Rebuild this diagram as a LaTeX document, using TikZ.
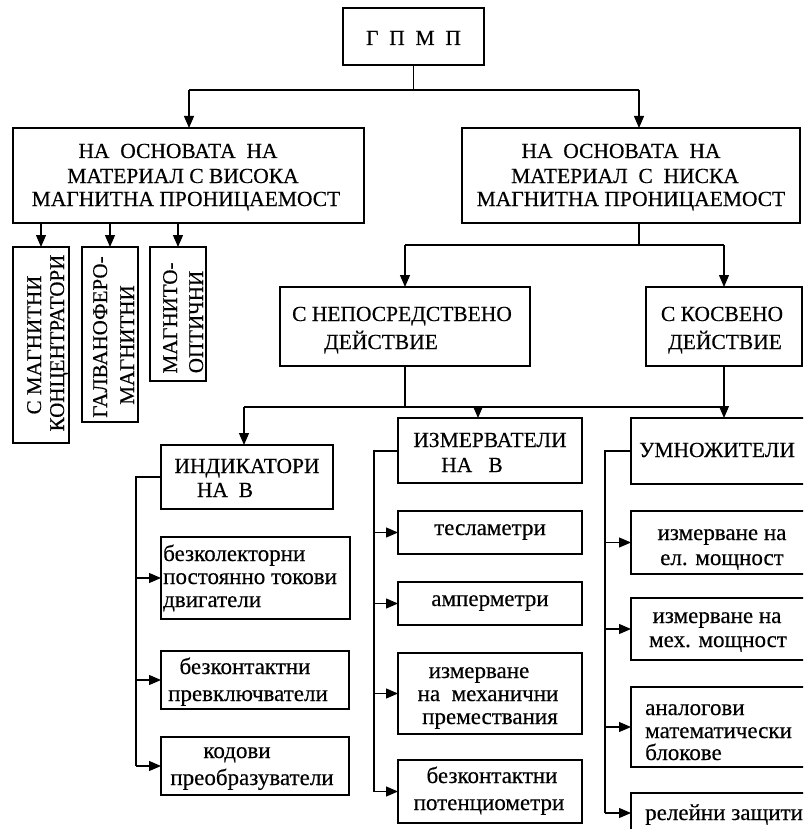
\documentclass[tikz,border=0pt]{standalone}
\usepackage{fontspec}
\setmainfont[FakeBold=0.35]{Liberation Serif}
\usetikzlibrary{arrows.meta}

% rectangle from (x1,y1) to (x2,y2), y measured downwards
\newcommand\boxat[5]{%
  \node[box, minimum width={(#4-#2)*1pt}, minimum height={(#5-#3)*1pt}]
    (#1) at ({(#2+#4)/2},{(#3+#5)/2}) {};}

\tikzset{
  box/.style={draw, line width=1.2pt, inner sep=0pt, outer sep=0pt},
  captext/.style={font=\fontsize{21.5}{25}\selectfont, inner sep=0pt, anchor=base},
  lowtext/.style={font=\fontsize{23}{25}\selectfont, inner sep=0pt, anchor=base},
  lowleft/.style={lowtext, anchor=base west},
  uptext/.style={font=\fontsize{21}{25}\selectfont, inner sep=0pt, anchor=base, rotate=90},
  link/.style={line width=1.2pt},
  arr/.style={link, -{Triangle[length=12pt,width=10pt]}},
}

\begin{document}
\begin{tikzpicture}[x=1pt,y=-1pt]
\fill[white] (0,0) rectangle (803,829);
\useasboundingbox (0,0) rectangle (803,829);
\clip (0,0) rectangle (803,829);

% ---------- boxes ----------
\boxat{gpmp}{343}{8}{484}{65}
\boxat{high}{13}{128}{364}{223}
\boxat{low}{462}{128}{800}{223}
\boxat{vA}{13}{247}{69}{443}
\boxat{vB}{82}{247}{138}{422}
\boxat{vC}{150}{247}{206}{381}
\boxat{dir}{280}{287}{530}{366}
\boxat{indir}{646}{287}{802}{366}
\boxat{ind}{161}{445}{333}{509}
\boxat{indA}{161}{537}{350}{619}
\boxat{indB}{161}{651}{349}{709}
\boxat{indC}{161}{737}{349}{795}
\boxat{meas}{398}{418}{582}{483}
\boxat{measA}{398}{511}{582}{554}
\boxat{measB}{398}{582}{582}{625}
\boxat{measC}{398}{653}{582}{734}
\boxat{measD}{398}{760}{582}{823}
\boxat{mul}{631}{418}{815}{484}
\boxat{mulA}{631}{511}{815}{574}
\boxat{mulB}{631}{598}{815}{660}
\boxat{mulC}{631}{687}{815}{767}
\boxat{mulD}{631}{793}{815}{833}

% ---------- texts ----------
\node[captext] (t0) at (413.5,45) {Г\ \ П\ \ М\ \ П};

\node[captext] (t1a) at (178,158) {НА\ \ ОСНОВАТА\ \ НА};
\node[captext] (t1b) at (183,183) {МАТЕРИАЛ С ВИСОКА};
\node[captext] (t1c) at (186,206) {МАГНИТНА ПРОНИЦАЕМОСТ};

\node[captext] (t2a) at (621,158) {НА\ \ ОСНОВАТА\ \ НА};
\node[captext] (t2b) at (625,183) {МАТЕРИАЛ\ \ С\ \ НИСКА};
\node[captext] (t2c) at (631,206) {МАГНИТНА ПРОНИЦАЕМОСТ};

\node[uptext] (tAa) at (41,345) {С МАГНИТНИ};
\node[uptext] (tAb) at (64,343) {КОНЦЕНТРАТОРИ};
\node[uptext] (tBa) at (107,337) {ГАЛВАНОФЕРО-};
\node[uptext] (tBb) at (134,345) {МАГНИТНИ};
\node[uptext] (tCa) at (177,318) {МАГНИТО-};
\node[uptext] (tCb) at (203,322) {ОПТИЧНИ};

\node[captext] (tDa) at (402,321) {С НЕПОСРЕДСТВЕНО};
\node[captext] (tDb) at (381,349) {ДЕЙСТВИЕ};
\node[captext] (tEa) at (722,321) {С КОСВЕНО};
\node[captext] (tEb) at (725,349) {ДЕЙСТВИЕ};

\node[captext] (tIa) at (247,473) {ИНДИКАТОРИ};
\node[captext] (tIb) at (225,497) {НА\ \ В};
\node[lowleft] (tI1a) at (163,561) {безколекторни};
\node[lowleft] (tI1b) at (163,584) {постоянно токови};
\node[lowleft] (tI1c) at (163,607) {двигатели};
\node[lowtext] (tI2a) at (245,674) {безконтактни};
\node[lowtext] (tI2b) at (248,701) {превключватели};
\node[lowtext] (tI3a) at (237,758) {кодови};
\node[lowtext] (tI3b) at (252,785) {преобразуватели};

\node[captext] (tMa) at (490,447) {ИЗМЕРВАТЕЛИ};
\node[captext] (tMb) at (472,472) {НА\ \ \ В};
\node[lowtext] (tM1) at (490,535) {тесламетри};
\node[lowtext] (tM2) at (490,606) {амперметри};
\node[lowtext] (tM3a) at (479,678) {измерване};
\node[lowtext] (tM3b) at (488,701) {на\ \ механични};
\node[lowtext] (tM3c) at (490,724) {премествания};
\node[lowtext] (tM4a) at (492,783) {безконтактни};
\node[lowtext] (tM4b) at (489,810) {потенциометри};

\node[captext, anchor=base west] (tU) at (639,457) {УМНОЖИТЕЛИ};
\node[lowtext] (tU1a) at (722,540) {измерване на};
\node[lowtext] (tU1b) at (722,565) {ел. мощност};
\node[lowtext] (tU2a) at (717,623) {измерване на};
\node[lowtext] (tU2b) at (718,647) {мех. мощност};
\node[lowleft] (tU3a) at (645,715) {аналогови};
\node[lowleft] (tU3b) at (645,738) {математически};
\node[lowleft] (tU3c) at (645,760) {блокове};
\node[lowleft] (tU4) at (645,820) {релейни защити};

% ---------- junction points ----------
\coordinate (hL) at (189,90);
\coordinate (hR) at (639,90);
\coordinate (kL) at (405,245);
\coordinate (kM) at (639,245);
\coordinate (kR) at (724,245);
\coordinate (nL) at (244,407);
\coordinate (nM) at (478,407);
\coordinate (nR) at (724,407);
\coordinate (bI) at (136,477);
\coordinate (bM) at (374,451);
\coordinate (bU) at (605,451);

% ---------- connectors ----------
\draw[link] (gpmp.south) -- (gpmp.south |- hL);
\draw[link] (hL) -- (hR);
\draw[arr] (hL) -- (hL |- high.north);
\draw[arr] (hR) -- (hR |- low.north);

\draw[arr] (vA.north |- high.south) -- (vA.north);
\draw[arr] (vB.north |- high.south) -- (vB.north);
\draw[arr] (vC.north |- high.south) -- (vC.north);

\draw[link] (kM |- low.south) -- (kM);
\draw[link] (kL) -- (kR);
\draw[arr] (kL) -- (kL |- dir.north);
\draw[arr] (kR) -- (kR |- indir.north);

\draw[link] (dir.south) -- (dir.south |- nL);
\draw[link] (indir.south) -- (nR);
\draw[link] (nL) -- (nR);
\draw[arr] (nL) -- (nL |- ind.north);
\draw[arr] (nM) -- (nM |- meas.north);
\draw[arr] (nR) -- (nR |- mul.north);

\draw[link] (ind.west |- bI) -- (bI) -- (bI |- indC.west);
\draw[arr] (bI |- indA.west) -- (indA.west);
\draw[arr] (bI |- indB.west) -- (indB.west);
\draw[arr] (bI |- indC.west) -- (indC.west);

\draw[link] (meas.west |- bM) -- (bM) -- (bM |- measD.west);
\draw[arr] (bM |- measA.west) -- (measA.west);
\draw[arr] (bM |- measB.west) -- (measB.west);
\draw[arr] (bM |- measC.west) -- (measC.west);
\draw[arr] (bM |- measD.west) -- (measD.west);

\draw[link] (mul.west |- bU) -- (bU) -- (bU |- mulD.west);
\draw[arr] (bU |- mulA.west) -- (mulA.west);
\draw[arr] (bU |- mulB.west) -- (mulB.west);
\draw[arr] (bU |- mulC.west) -- (mulC.west);
\draw[arr] (bU |- mulD.west) -- (mulD.west);
\end{tikzpicture}
\end{document}
